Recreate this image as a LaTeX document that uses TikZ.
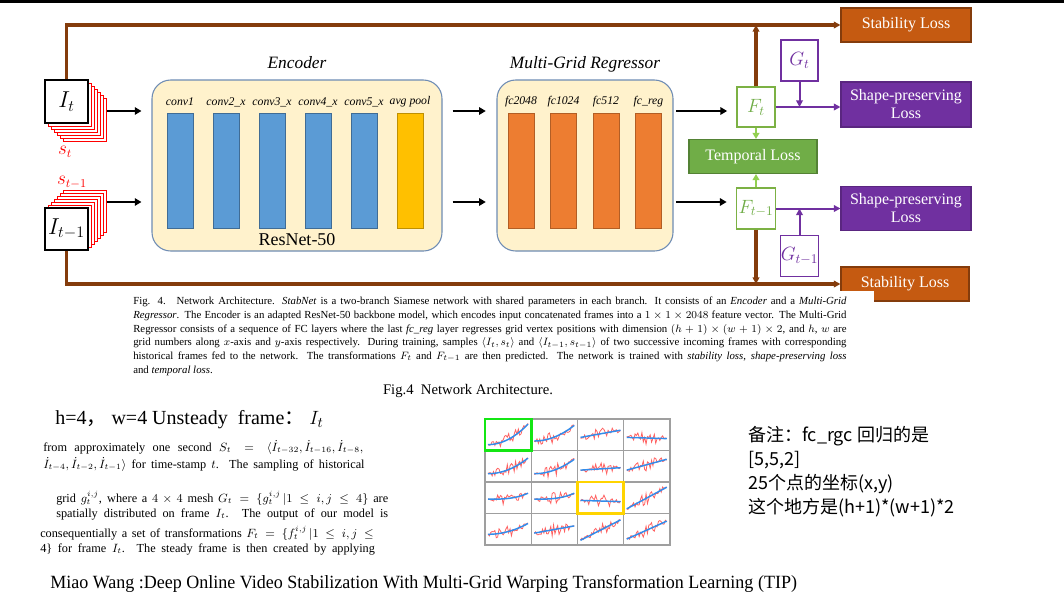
\documentclass[tikz,border=0pt]{standalone}
\usepackage{fontspec}
\setmainfont{Liberation Serif}
\newfontfamily\cjk{Noto Sans CJK SC}
\usepackage{graphicx}
\usetikzlibrary{arrows.meta, positioning, calc}
\definecolor{encfill}{RGB}{255,242,204}
\definecolor{encborder}{RGB}{110,140,180}
\definecolor{barblue}{RGB}{91,155,213}
\definecolor{baryellow}{RGB}{255,192,0}
\definecolor{barorange}{RGB}{237,125,49}
\definecolor{mybrown}{RGB}{132,60,12}
\definecolor{stabfill}{RGB}{197,90,17}
\definecolor{mypurple}{RGB}{112,48,160}
\definecolor{mygreen}{RGB}{112,173,71}
\definecolor{lightgreen}{RGB}{146,208,80}
\definecolor{myred}{RGB}{255,0,0}
\definecolor{plotblue}{RGB}{50,140,235}
\definecolor{plotred}{RGB}{255,70,70}
\tikzset{
  wh/.style 2 args={minimum width=#1*0.75pt, minimum height=#2*0.75pt},
  framebox/.style={rectangle, draw=black, fill=white, line width=0.8pt,
    inner sep=0pt, font=\fontsize{18}{20}\selectfont},
  redframe/.style={draw=myred, fill=white, line width=0.75pt},
  redlabel/.style={text=myred, font=\fontsize{13.5}{15}\selectfont},
  stagebox/.style={rectangle, rounded corners=14pt, draw=encborder,
    fill=encfill, line width=0.8pt},
  stagetitle/.style={font=\itshape\fontsize{13}{15}\selectfont},
  layerlabel/.style={font=\itshape\fontsize{8.8}{10}\selectfont, inner sep=0pt},
  convbar/.style={rectangle, draw=barblue!70!black, fill=barblue, wh={26}{115},
    line width=0.5pt},
  poolbar/.style={rectangle, draw=baryellow!75!black, fill=baryellow, wh={26}{115},
    line width=0.5pt},
  fcbar/.style={rectangle, draw=barorange!75!black, fill=barorange, wh={26}{115},
    line width=0.5pt},
  backbone/.style={font=\fontsize{13.5}{15}\selectfont},
  flow/.style={-{Triangle[length=5pt,width=5.5pt]}, line width=2.2pt, color=black},
  transbox/.style={rectangle, draw=lightgreen!85!black, fill=white, line width=0.8pt,
    inner sep=0pt, text=mygreen, font=\fontsize{14.5}{16}\selectfont},
  gridbox/.style={rectangle, draw=mypurple, fill=white, line width=0.8pt,
    inner sep=0pt, text=mypurple, font=\fontsize{14.5}{16}\selectfont},
  lossbox/.style={rectangle, line width=0.8pt, text=white, align=center,
    inner sep=1pt, font=\fontsize{12}{13.5}\selectfont},
  stabloss/.style={lossbox, draw=mybrown, fill=stabfill},
  shapeloss/.style={lossbox, draw=mypurple!80!black, fill=mypurple},
  temploss/.style={lossbox, draw=mygreen!75!black, fill=mygreen},
  stabline/.style={-{Triangle[length=5pt,width=5pt]}, line width=2.4pt, color=mybrown},
  shapeline/.style={-{Triangle[length=5pt,width=5pt]}, line width=1.5pt, color=mypurple},
  templine/.style={-{Triangle[length=4.5pt,width=5pt]}, line width=1.5pt, color=lightgreen},
  captext/.style={inner sep=0pt, font=\fontsize{8.1}{9}\selectfont},
  papertext/.style={inner sep=0pt, anchor=west, font=\fontsize{9.2}{11}\selectfont},
  cellframe/.style={draw=gray!75, line width=1pt},
  noisyline/.style={plotred, line width=0.6pt, opacity=0.85},
  trendline/.style={plotblue, line width=1.1pt}
}
\begin{document}
\begin{tikzpicture}[x=0.75pt, y=-0.75pt]
  \useasboundingbox[fill=white] (0,0) rectangle (1064,604);
  \fill[black] (0,0) rectangle (1064,2.5);

  % Input frames with historical stacks
  \foreach \k in {6,5,...,1} {
    \draw[redframe] (45+3*\k,80+3*\k) rectangle ++(43,43);
    \draw[redframe] (45+3*\k,208-3*\k) rectangle ++(43,42);
  }
  \node[framebox, wh={43}{43}] (It) at (66.5,101.5) {$I_t$};
  \node[framebox, wh={43}{42}] (Itm) at (66.5,229) {$I_{t-1}$};
  \node[redlabel] (st) at (65,152) {$s_t$};
  \node[redlabel] (stm) at (72,182) {$s_{t-1}$};

  % Encoder
  \node[stagebox, wh={290}{171}] (enc) at (297,165.5) {};
  \node[stagetitle] (enctitle) at (297,63) {Encoder};
  \foreach \i/\lab in {0/conv1,1/conv2\_x,2/conv3\_x,3/conv4\_x,4/conv5\_x} {
    \node[layerlabel] (enclab\i) at (180+46*\i,102) {\lab};
    \node[convbar] (encbar\i) at (180+46*\i,170.5) {};
  }
  \node[layerlabel] (enclab5) at (410,102) {avg pool};
  \node[poolbar] (encbar5) at (410,170.5) {};
  \node[backbone] (resnet) at (297,240) {ResNet-50};

  % Multi-grid regressor
  \node[stagebox, wh={176}{171}] (reg) at (585,165.5) {};
  \node[stagetitle] (regtitle) at (585,64) {Multi-Grid Regressor};
  \foreach \i/\lab in {0/fc2048,1/fc1024,2/fc512,3/fc\_reg} {
    \node[layerlabel] (reglab\i) at (521+42.5*\i,102) {\lab};
    \node[fcbar] (regbar\i) at (521+42.5*\i,170.5) {};
  }

  % Transformations, meshes and losses
  \node[transbox, wh={38}{40}] (Ft) at (756,107) {$F_t$};
  \node[transbox, wh={39}{41}] (Ftm) at (756,208.5) {$F_{t-1}$};
  \node[temploss, wh={128}{34}] (temp) at (753,156.5) {Temporal Loss};
  \node[gridbox, wh={37}{41}] (Gt) at (799.5,60.5) {$G_t$};
  \node[gridbox, wh={37}{41}] (Gtm) at (799.5,256) {$G_{t-1}$};
  \node[shapeloss, wh={130}{45}] (shapeT) at (906,104.5) {Shape-preserving\\Loss};
  \node[shapeloss, wh={130}{44}] (shapeB) at (906,208.5) {Shape-preserving\\Loss};
  \node[stabloss, wh={130}{34}] (stabT) at (906,25) {Stability Loss};
  \node[stabloss, wh={128}{34}] (stabB) at (905,284) {Stability Loss};

  % Data flow
  \coordinate (inT) at (107,111);
  \coordinate (inB) at (107,202);
  \foreach \src in {inT,inB} {
    \draw[flow, shorten >=7.5pt] (\src) -- (\src -| enc.west);
    \draw[flow, shorten <=7.5pt, shorten >=8pt] (enc.east |- \src) -- (reg.west |- \src);
  }
  \draw[flow, shorten <=2pt, shorten >=7pt] (reg.east |- inT) -- (Ft.west |- inT);
  \draw[flow, shorten <=2pt, shorten >=7pt] (reg.east |- inB) -- (Ftm.west |- inB);

  \draw[stabline] (It.north) |- (stabT.west);
  \draw[stabline] (Itm.south) |- (stabB.west);
  \draw[stabline] (Ft.north) -- (Ft.north |- stabT.west);
  \draw[stabline] (Ftm.south) -- (Ftm.south |- stabB.west);
  \draw[shapeline] (Ft.east) -- (Ft.east -| shapeT.west);
  \draw[shapeline] (Gt.south) -- (Gt.south |- Ft.east);
  \draw[shapeline] (Ftm.east) -- (Ftm.east -| shapeB.west);
  \draw[shapeline] (Gtm.north) -- (Gtm.north |- Ftm.east);
  \draw[templine] (Ft.south) -- (Ft.south |- temp.north);
  \draw[templine] (Ftm.north) -- (Ftm.north |- temp.south);

  % Caption of the figure
  \fill[white] (120,291) rectangle (874,382);
  \foreach \ypos/\txt [count=\i] in {
    302/{Fig. 4.\quad Network Architecture. \textit{StabNet} is a two-branch Siamese network with shared parameters in each branch. It consists of an \textit{Encoder} and a \textit{Multi-Grid}},
    316/{\textit{Regressor}. The Encoder is an adapted ResNet-50 backbone model, which encodes input concatenated frames into a $1\times1\times2048$ feature vector. The Multi-Grid},
    330/{Regressor consists of a sequence of FC layers where the last \textit{fc\_reg} layer regresses grid vertex positions with dimension $(h+1)\times(w+1)\times2$, and $h$, $w$ are},
    343/{grid numbers along $x$-axis and $y$-axis respectively. During training, samples $\langle I_t, s_t\rangle$ and $\langle I_{t-1}, s_{t-1}\rangle$ of two successive incoming frames with corresponding},
    357/{historical frames fed to the network. The transformations $F_t$ and $F_{t-1}$ are then predicted. The network is trained with \textit{stability loss}, \textit{shape-preserving loss}}} {
    \node[captext, anchor=west] (cap\i) at (133,\ypos) {\makebox[535pt][s]{\txt}};
  }
  \node[captext, anchor=west] (cap6) at (133,371) {and \textit{temporal loss}.};
  \node[font=\fontsize{11}{13}\selectfont] (figtitle) at (468,391) {Fig.4\ \ Network Architecture.};

  % Notes on the grid
  \node[anchor=west, inner sep=0pt, font=\fontsize{15}{17}\selectfont] (hw) at (55,420)
    {h=4{\cjk ，}\ w=4 Unsteady\ \ frame{\cjk ：}\ $I_t$};
  \node[papertext] (par1) at (43,447) {\makebox[240pt][s]{from approximately one second $S_t = \langle \dot I_{t-32}, \dot I_{t-16}, \dot I_{t-8},$}};
  \node[papertext] (par2) at (43,464) {\makebox[241pt][s]{$\dot I_{t-4}, \dot I_{t-2}, \dot I_{t-1}\rangle$ for time-stamp $t$. The sampling of historical}};
  \node[papertext] (par3) at (56,498) {\makebox[249pt][s]{grid $g_t^{i,j}$, where a $4\times4$ mesh $G_t=\{g_t^{i,j}\,|1\le i,j\le4\}$ are}};
  \node[papertext] (par4) at (56,514) {\makebox[249pt][s]{spatially distributed on frame $I_t$. The output of our model is}};
  \node[papertext] (par5) at (40,533) {\makebox[250pt][s]{consequentially a set of transformations $F_t=\{f_t^{i,j}\,|1\le i,j\le$}};
  \node[papertext] (par6) at (40,549) {\makebox[251pt][s]{4\} for frame $I_t$. The steady frame is then created by applying}};

  % Grid of motion curves
  \pgfmathsetseed{7}
  \foreach \gc/\gr/\ga/\gb/\gp in {0/0/0.1/0.95/2, 1/0/0.25/0.9/2, 2/0/0.4/0.7/1, 3/0/0.4/0.35/1,
      0/1/0.2/0.85/2, 1/1/0.2/0.8/2, 2/1/0.35/0.45/1, 3/1/0.35/0.8/1,
      0/2/0.45/0.7/3, 1/2/0.45/0.7/3, 2/2/0.4/0.35/1, 3/2/0.05/0.95/1,
      0/3/0.3/0.75/2, 1/3/0.35/0.65/1, 2/3/0.05/0.9/1, 3/3/0.1/0.85/1} {
    \pgfmathsetmacro\cx{485+46.25*\gc}
    \pgfmathsetmacro\cy{419+31.5*\gr}
    \draw[cellframe] (\cx,\cy) rectangle ++(46.25,31.5);
    \draw[noisyline] plot[domain=0:1, samples=30]
      ({\cx+3+40*\x},{\cy+28-24*(\ga+(\gb-\ga)*\x^\gp+(0.04+0.22*sin(180*\x))*rand)});
    \draw[trendline] plot[domain=0:1, samples=15, smooth]
      ({\cx+3+40*\x},{\cy+28-24*(\ga+(\gb-\ga)*\x^\gp)});
  }
  \draw[draw={rgb,255:red,20;green,230;blue,20}, line width=2pt] (485,419) rectangle ++(46.25,31.5);
  \draw[draw={rgb,255:red,255;green,212;blue,0}, line width=2pt] (577.5,482) rectangle ++(46.25,31.5);

  % Remarks
  \node[anchor=north west, align=left, inner sep=0pt, font=\cjk\fontsize{13.5}{18}\selectfont] (remark) at (748,426)
    {备注：fc\_rgc 回归的是\\{[5,5,2]}\\25个点的坐标(x,y)\\这个地方是(h+1)*(w+1)*2};

  % Reference
  \node[anchor=west, inner sep=0pt] (ref) at (50,584)
    {\resizebox{560pt}{\height}{\fontsize{14}{16}\selectfont Miao Wang :Deep Online Video Stabilization With Multi-Grid Warping Transformation Learning (TIP)}};
\end{tikzpicture}
\end{document}
